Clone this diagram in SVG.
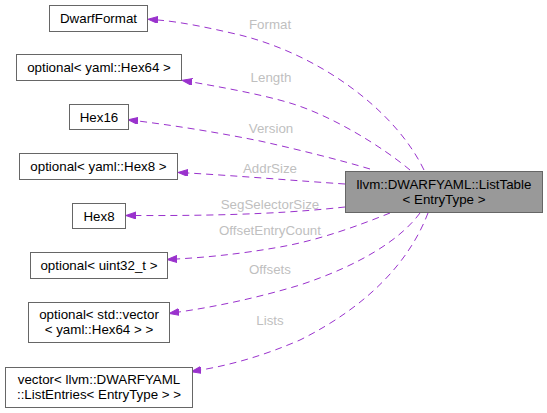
<svg xmlns="http://www.w3.org/2000/svg" width="547" height="413" viewBox="0 0 547 413">
<style>
.n rect{fill:#ffffff;stroke:#666666;stroke-width:1}
.n text{font-family:"Liberation Sans",Arial,sans-serif;font-size:13.33px;fill:#000000;text-anchor:middle}
#main rect{fill:#999999}
.e path{fill:none;stroke:#9a32cd;stroke-width:1;stroke-dasharray:7,5}
.lbl{font-family:"Liberation Sans",Arial,sans-serif;font-size:13.33px;fill:#bfbfbf;text-anchor:middle}
</style>
<defs>
<marker id="ah" markerUnits="userSpaceOnUse" markerWidth="11" markerHeight="8" refX="0" refY="3.5" orient="auto">
<path d="M0,0 L10,3.5 L0,7 z" fill="#9a32cd" stroke="#9a32cd" stroke-width="1"/>
</marker>
</defs>
<rect width="547" height="413" fill="#ffffff"/>
<g id="edges" class="e">
<path d="M424,170 C395,110 320,55 240,35 C210,28 182,22 158,20" marker-end="url(#ah)"/>
<path d="M410,170 C380,145 330,115 290,103 C260,94 220,87 192,82" marker-end="url(#ah)"/>
<path d="M370,169 C340,160 300,150 260,141 C210,131 170,125 138,121" marker-end="url(#ah)"/>
<path d="M345,184 C300,181 240,176 188,173" marker-end="url(#ah)"/>
<path d="M345,207 C300,212 240,216 136,215.5" marker-end="url(#ah)"/>
<path d="M390,213 C360,225 320,240 280,247 C240,254 210,257 177,259" marker-end="url(#ah)"/>
<path d="M420,213 C400,240 360,265 300,285 C260,297 220,306 179,312" marker-end="url(#ah)"/>
<path d="M428,213 C410,260 370,305 300,340 C265,355 235,364 201,370" marker-end="url(#ah)"/>
<text class="lbl" x="270" y="29">Format</text>
<text class="lbl" x="271" y="82">Length</text>
<text class="lbl" x="271" y="133">Version</text>
<text class="lbl" x="270" y="173">AddrSize</text>
<text class="lbl" x="270" y="209">SegSelectorSize</text>
<text class="lbl" x="270" y="235">OffsetEntryCount</text>
<text class="lbl" x="270" y="274">Offsets</text>
<text class="lbl" x="270" y="325">Lists</text>
</g>
<g id="main" class="n"><rect x="345.5" y="171.5" width="197" height="41"/><text x="444" y="188.5">llvm::DWARFYAML::ListTable</text><text x="444" y="203.5">&lt; EntryType &gt;</text></g>
<g id="dwarfformat" class="n"><rect x="49.5" y="5.5" width="98" height="26"/><text x="98.5" y="23">DwarfFormat</text></g>
<g id="length" class="n"><rect x="16.5" y="54.5" width="165" height="26"/><text x="99" y="72">optional&lt; yaml::Hex64 &gt;</text></g>
<g id="hex16" class="n"><rect x="69.5" y="104.5" width="59" height="25"/><text x="99" y="121.5">Hex16</text></g>
<g id="addrsize" class="n"><rect x="19.5" y="153.5" width="158" height="26"/><text x="98.5" y="171">optional&lt; yaml::Hex8 &gt;</text></g>
<g id="hex8" class="n"><rect x="72.5" y="203.5" width="53" height="25"/><text x="99" y="220.5">Hex8</text></g>
<g id="uint32" class="n"><rect x="30.5" y="252.5" width="137" height="26"/><text x="99" y="270">optional&lt; uint32_t &gt;</text></g>
<g id="offsets" class="n"><rect x="28.5" y="302.5" width="141" height="40"/><text x="99" y="319">optional&lt; std::vector</text><text x="99" y="334">&lt; yaml::Hex64 &gt; &gt;</text></g>
<g id="lists" class="n"><rect x="5.5" y="367.5" width="187" height="40"/><text x="99" y="384">vector&lt; llvm::DWARFYAML</text><text x="99" y="399">::ListEntries&lt; EntryType &gt; &gt;</text></g>
</svg>
